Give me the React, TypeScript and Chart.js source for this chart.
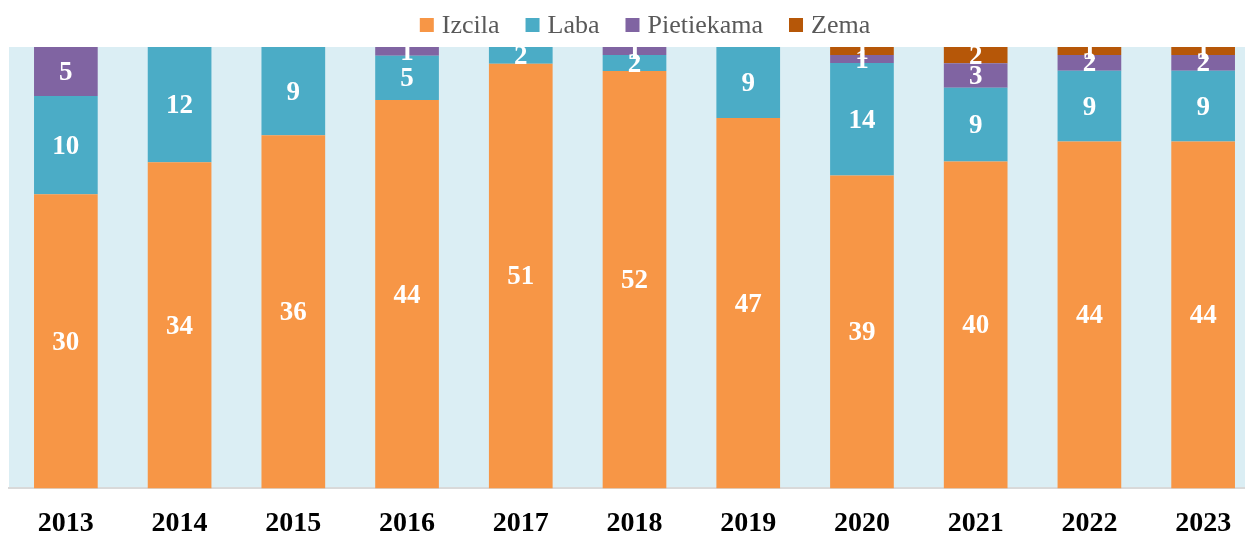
import React, { useEffect, useRef } from "react";
import { Chart, registerables } from "chart.js";

Chart.register(...registerables);

const years = ["2013", "2014", "2015", "2016", "2017", "2018", "2019", "2020", "2021", "2022", "2023"];
const izcila = [30, 34, 36, 44, 51, 52, 47, 39, 40, 44, 44];
const laba = [10, 12, 9, 5, 2, 2, 9, 14, 9, 9, 9];
const pietiekama = [5, 0, 0, 1, 0, 1, 0, 1, 3, 2, 2];
const zema = [0, 0, 0, 0, 0, 0, 0, 1, 2, 1, 1];

const seriesNames = ["Izcila", "Laba", "Pietiekama", "Zema"];
const seriesColors = ["#F79646", "#4BACC6", "#8064A2", "#B65708"];

const counts = [izcila, laba, pietiekama, zema];
const totals = years.map((_, i) => counts.reduce((s, arr) => s + arr[i], 0));

const SERIF = "'Liberation Serif', 'Times New Roman', serif";

const plotBg = {
  id: "plotBg",
  beforeDraw(chart: any) {
    const { ctx, chartArea: a } = chart;
    ctx.save();
    ctx.fillStyle = "#DBEEF4";
    ctx.fillRect(a.left, a.top, a.right - a.left, a.bottom - a.top);
    ctx.restore();
  },
};

const segLabels = {
  id: "segLabels",
  afterDatasetsDraw(chart: any) {
    const { ctx, chartArea: a } = chart;
    ctx.save();
    ctx.beginPath();
    ctx.rect(a.left, a.top, a.right - a.left, a.bottom - a.top);
    ctx.clip();
    ctx.fillStyle = "#FFFFFF";
    ctx.font = `bold 27px ${SERIF}`;
    ctx.textAlign = "center";
    ctx.textBaseline = "middle";
    chart.data.datasets.forEach((ds: any, di: number) => {
      const meta = chart.getDatasetMeta(di);
      meta.data.forEach((el: any, i: number) => {
        const v = ds.counts[i];
        if (!v) return;
        const { x, y, base } = el.getProps(["x", "y", "base"], true);
        ctx.fillText(String(v), x, (y + base) / 2 + 1.5);
      });
    });
    ctx.restore();
  },
};

const customLegend = {
  id: "customLegend",
  afterDraw(chart: any) {
    const { ctx } = chart;
    ctx.save();
    ctx.font = `26px ${SERIF}`;
    const box = 14;
    const gapText = 8;
    const gapItem = 26;
    const widths = seriesNames.map((n) => ctx.measureText(n).width);
    const total = widths.reduce((s, w) => s + box + gapText + w, 0) + gapItem * (seriesNames.length - 1);
    const cx = 645;
    let x = cx - total / 2;
    const boxTop = 18;
    const baseline = 33;
    seriesNames.forEach((n, i) => {
      ctx.fillStyle = seriesColors[i];
      ctx.fillRect(x, boxTop, box, box);
      x += box + gapText;
      ctx.fillStyle = "#595959";
      ctx.textAlign = "left";
      ctx.textBaseline = "alphabetic";
      ctx.fillText(n, x, baseline);
      x += widths[i] + gapItem;
    });
    ctx.restore();
  },
};

export default function App() {
  const ref = useRef<HTMLCanvasElement | null>(null);

  useEffect(() => {
    if (!ref.current) return;
    const chart = new Chart(ref.current, {
      type: "bar",
      data: {
        labels: years,
        datasets: counts.map((arr, k) => ({
          label: seriesNames[k],
          data: arr.map((v, i) => (v / totals[i]) * 100),
          counts: arr,
          backgroundColor: seriesColors[k],
          borderWidth: 0,
          categoryPercentage: 1,
          barPercentage: 0.56,
        })) as any,
      },
      options: {
        responsive: false,
        animation: false,
        devicePixelRatio: 1,
        layout: { padding: { left: 9, right: 30, top: 47, bottom: 0 } },
        plugins: {
          legend: { display: false },
          title: { display: false },
          tooltip: { enabled: false },
        },
        scales: {
          x: {
            stacked: true,
            grid: { display: false, drawTicks: false },
            border: { display: true, color: "#D9D9D9", width: 2 },
            ticks: {
              color: "#000000",
              font: { family: SERIF, size: 28, weight: "bold" },
              padding: 19,
              maxRotation: 0,
              autoSkip: false,
            },
          },
          y: {
            stacked: true,
            display: false,
            min: 0,
            max: 100,
          },
        },
      },
      plugins: [plotBg, segLabels, customLegend],
    });
    return () => chart.destroy();
  }, []);

  return (
    <div style={{ position: "fixed", left: 0, top: 0, width: 1245, height: 533, overflow: "hidden", background: "#FFFFFF" }}>
      <canvas ref={ref} width={1290} height={560} style={{ display: "block" }} />
    </div>
  );
}
